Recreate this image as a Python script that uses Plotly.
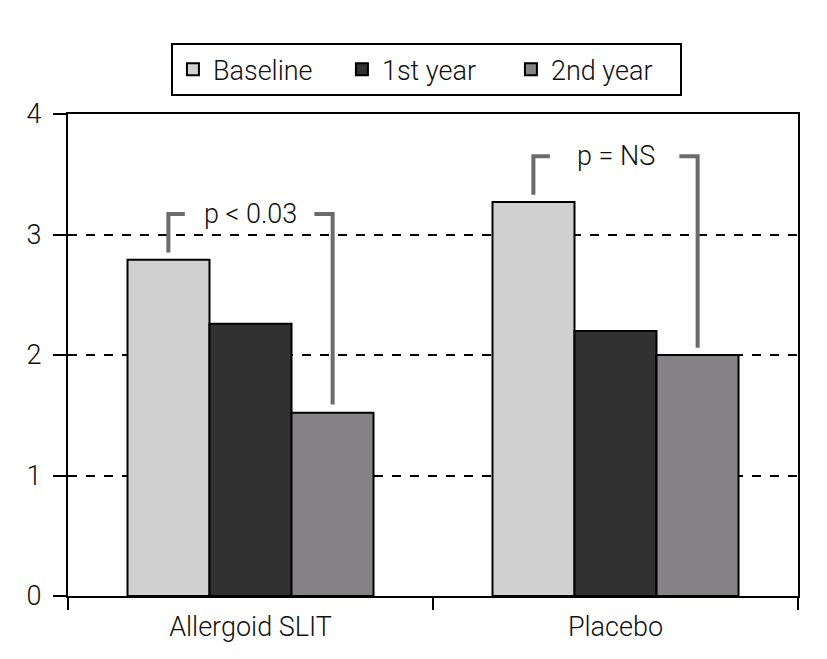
import plotly.graph_objects as go

groups = ["Allergoid SLIT", "Placebo"]
series_names = ["Baseline", "1st year", "2nd year"]
baseline = [2.79, 3.27]
first_year = [2.26, 2.20]
second_year = [1.52, 2.00]
series_colors = ["#d0d0d0", "#313131", "#858385"]

# brackets: (group index, left y bottom, right y bottom, top y, label)
brackets = [
    (0, 2.85, 1.59, 3.17, "p < 0.03"),
    (1, 3.33, 2.06, 3.65, "p = NS"),
]

FONT = "Roboto"
txt = dict(family=FONT, size=27, color="#111", weight=300)

fig = go.Figure()
for name, vals, col in zip(series_names, [baseline, first_year, second_year], series_colors):
    fig.add_trace(go.Bar(
        x=groups, y=vals, name=name,
        marker=dict(color=col, line=dict(color="black", width=2)),
    ))

gray = "#6b6b6b"
off = 0.225
for gi, yl, yr, ytop, label in brackets:
    fig.add_shape(type="path", xref="x", yref="y",
                  path=f"M {gi-off},{yl} L {gi-off},{ytop} L {gi-0.18},{ytop}",
                  line=dict(color=gray, width=4))
    fig.add_shape(type="path", xref="x", yref="y",
                  path=f"M {gi+0.175},{ytop} L {gi+off},{ytop} L {gi+off},{yr}",
                  line=dict(color=gray, width=4))
    fig.add_annotation(x=gi, y=ytop, xref="x", yref="y", text=label,
                       showarrow=False, yanchor="middle", font=txt)

# page body adds 8px offset, so margins are shifted back by 8px
fig.update_layout(
    width=827, height=659,
    margin=dict(l=60, r=37, t=106, b=71),
    plot_bgcolor="white", paper_bgcolor="white",
    barmode="group", bargap=0.326, bargroupgap=0,
    font=txt,
    legend=dict(orientation="h", x=0.491, y=1.092, xanchor="center", yanchor="middle",
                bordercolor="black", borderwidth=2, bgcolor="white",
                font=txt, itemwidth=30, entrywidth=124),
    showlegend=True,
)
fig.update_yaxes(range=[0, 4], dtick=1, showline=True, linecolor="black", linewidth=2,
                 mirror=True, ticks="outside", ticklen=13, tickwidth=2, tickcolor="black",
                 showgrid=True, gridcolor="black", gridwidth=1.5, griddash="dash",
                 zeroline=False, ticklabelstandoff=6)
fig.update_xaxes(showline=True, linecolor="black", linewidth=2, mirror=True,
                 ticks="outside", tickson="boundaries", ticklen=12, tickwidth=2,
                 tickcolor="black", showgrid=False, ticklabelstandoff=6)

fig.write_html("out.html")
